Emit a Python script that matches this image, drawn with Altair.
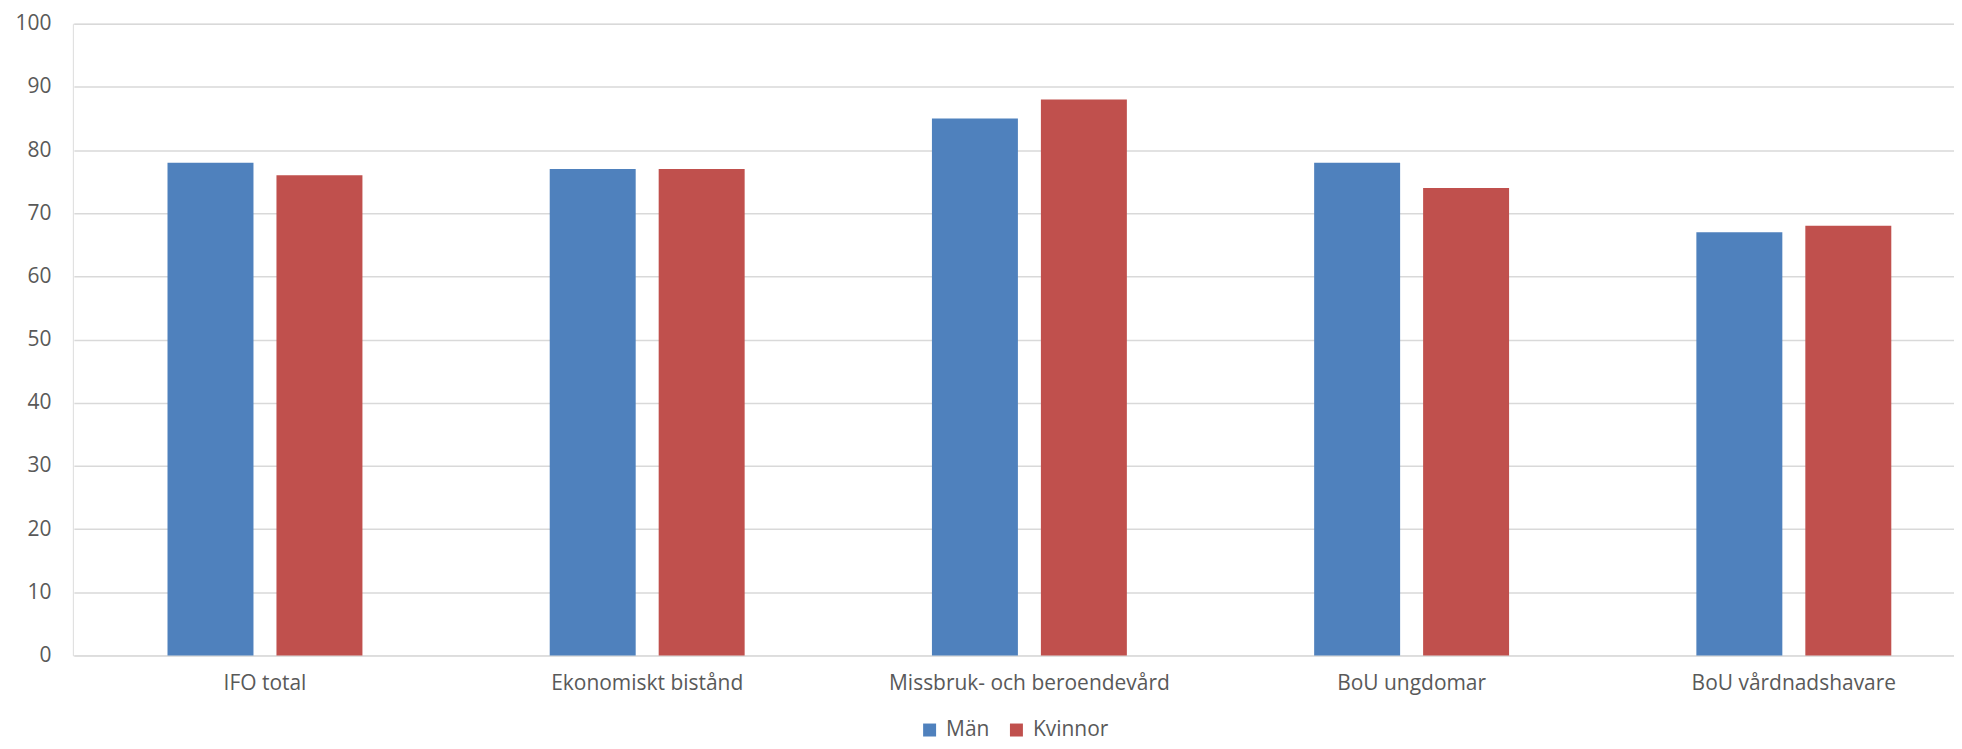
import altair as alt
import pandas as pd

categories = ["IFO total", "Ekonomiskt bistånd", "Missbruk- och beroendevård", "BoU ungdomar", "BoU vårdnadshavare"]
series = ["Män", "Kvinnor"]
man_values = [78, 77, 85, 78, 67]
kvinnor_values = [76, 77, 88, 74, 68]
colors = ["#4F81BD", "#C0504D"]

rows = []
for c, m, k in zip(categories, man_values, kvinnor_values):
    rows.append({"Kategori": c, "Kön": "Män", "Värde": m})
    rows.append({"Kategori": c, "Kön": "Kvinnor", "Värde": k})
df = pd.DataFrame(rows)

font = "Open Sans"
txt = "#595959"

chart = alt.Chart(df).mark_bar().encode(
    x=alt.X("Kategori:N", sort=categories, title=None,
            scale=alt.Scale(paddingInner=0.49, paddingOuter=0.245, range=[1, 1916]),
            axis=alt.Axis(labelAngle=0, ticks=False, domain=False, labelFontSize=21,
                          labelColor=txt, labelFont=font, labelPadding=17, labelLimit=0,
                          grid=False)),
    xOffset=alt.XOffset("Kön:N", sort=series, scale=alt.Scale(paddingInner=0.211, paddingOuter=0)),
    y=alt.Y("Värde:Q", title=None,
            scale=alt.Scale(domain=[0, 100], nice=False),
            axis=alt.Axis(values=list(range(0, 101, 10)), ticks=False, domain=False,
                          labelFontSize=21, labelColor=txt, labelFont=font, labelPadding=22,
                          gridColor="#D9D9D9", gridWidth=1.5)),
    color=alt.Color("Kön:N", sort=series,
                    scale=alt.Scale(domain=series, range=colors),
                    legend=alt.Legend(title=None, orient="none", direction="horizontal",
                                      legendX=848, legendY=697, symbolType="square",
                                      symbolSize=169, symbolStrokeWidth=0, labelFontSize=21,
                                      labelColor=txt, labelFont=font, columnPadding=16,
                                      symbolOffset=0, labelOffset=6, padding=0)),
).properties(
    width=1885, height=633,
    autosize=alt.AutoSizeParams(type="none"),
    padding={"left": 65, "top": 15, "right": 0, "bottom": 85},
).configure_view(stroke=None).configure(background="white")

chart.save("out.html", embed_options={"renderer": "svg", "actions": False})
